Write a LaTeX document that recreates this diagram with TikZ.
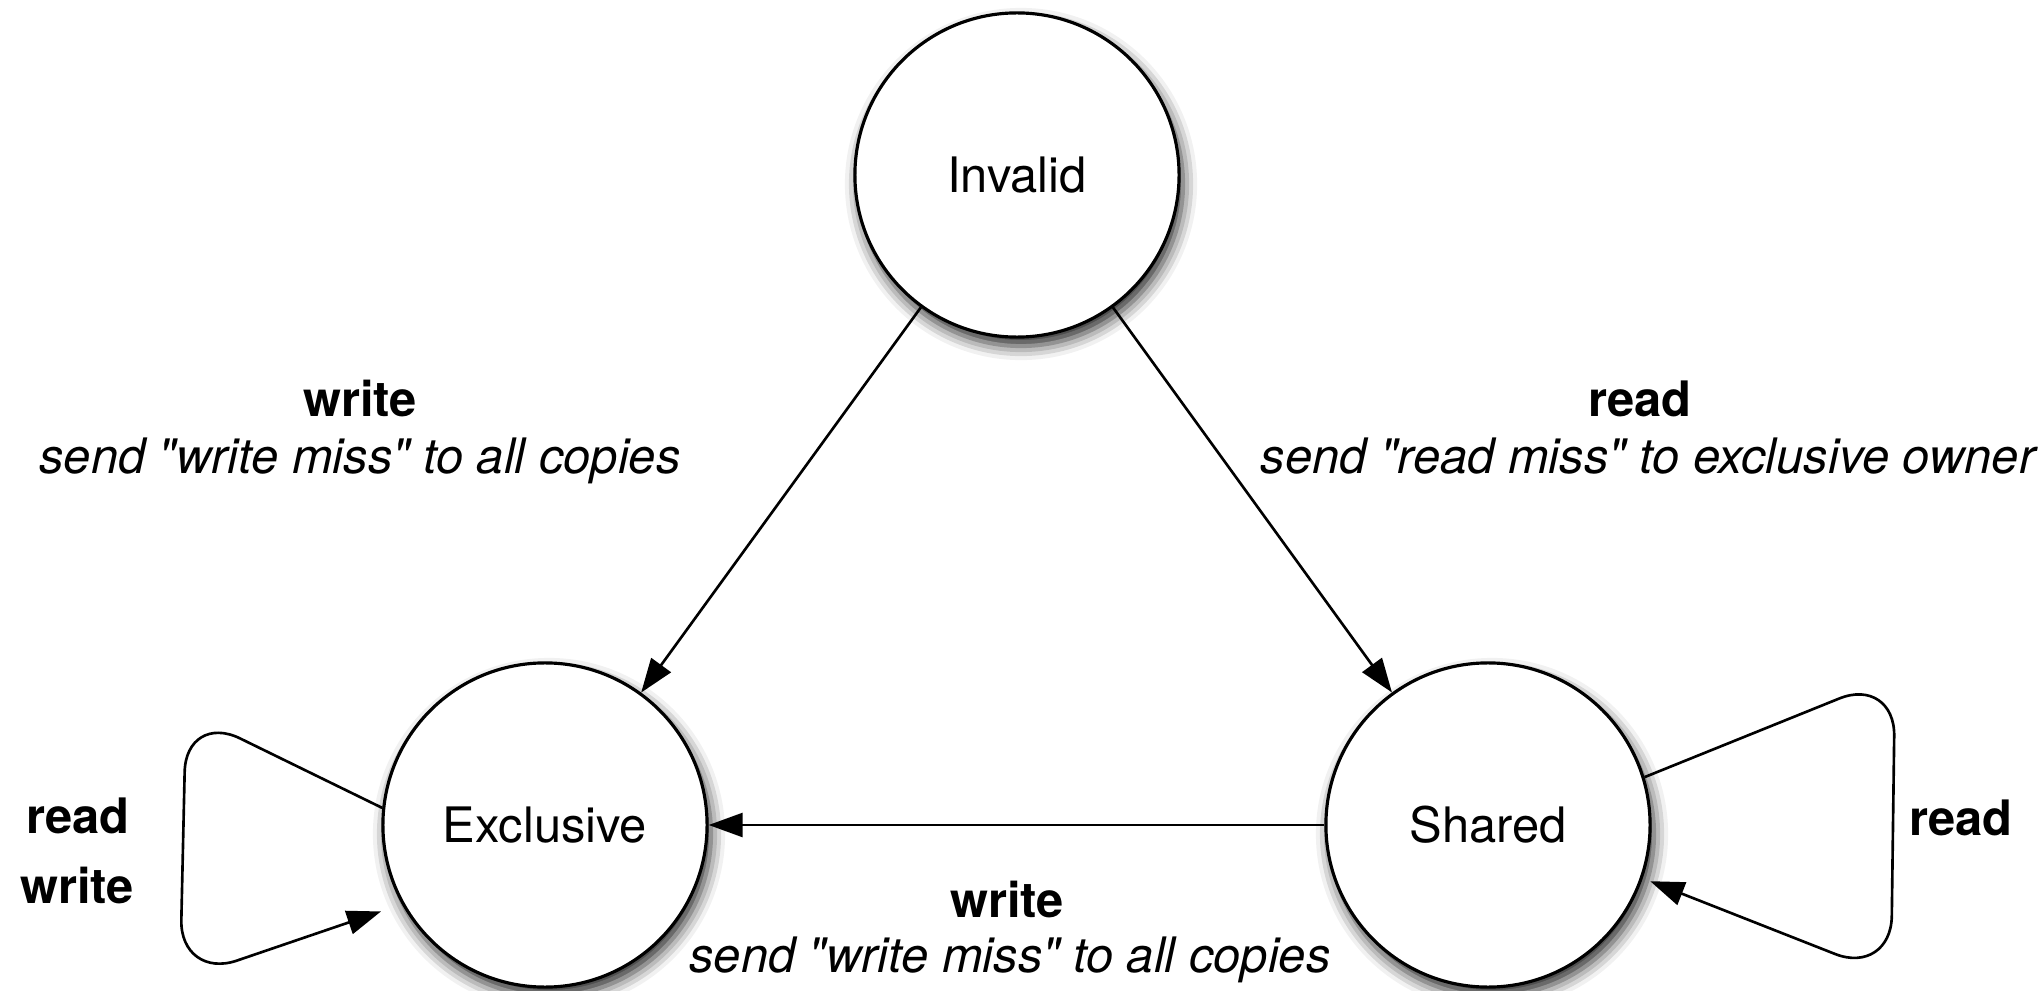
\documentclass[tikz,border=0pt]{standalone}
\usepackage{fontspec}
\setmainfont{TeX Gyre Heros}
\usetikzlibrary{arrows.meta,shadows.blur}

\tikzset{
  statenode/.style={circle, draw, line width=0.9pt, fill=white,
    minimum size=3.24cm, inner sep=0pt,
    font=\fontsize{13.9}{16}\selectfont,
    blur shadow={shadow xshift=0.04cm, shadow yshift=-0.09cm,
      shadow blur radius=0.14cm, shadow opacity=85}},
  trans/.style={-{Triangle[length=3.4mm,width=2.4mm]}, line width=0.75pt},
  evt/.style={anchor=base, inner sep=0pt, font=\fontsize{13.9}{16}\selectfont\bfseries},
  act/.style={anchor=base, inner sep=0pt, font=\fontsize{13.9}{16}\selectfont\itshape},
}

\begin{document}
\begin{tikzpicture}[x=0.01cm, y=-0.01cm]
  \useasboundingbox (0,0) rectangle (2038,991);
  \clip (0,0) rectangle (2038,991);

  % states
  \node[statenode] (inv) at (1017,175) {Invalid};
  \node[statenode] (exc) at (545,825) {Exclusive};
  \node[statenode] (sh) at (1488,825) {Shared};

  % transitions
  \draw[trans] (inv) -- (exc);
  \draw[trans] (inv) -- (sh);
  \draw[trans] (sh) -- (exc);
  \draw[trans, rounded corners=0.6cm, shorten >=0.22cm]
    (exc.174) -- (186,712) -- (180,980) -- (exc.209);
  \draw[trans, rounded corners=0.6cm, shorten >=0.08cm]
    (sh.17) -- (1895,676) -- (1891,976) -- (sh.-19);

  % labels
  \node[evt] (lw) at (360,417) {write};
  \node[act] (lwa) at (360,473) {send \textquotedbl write miss\textquotedbl\ to all copies};
  \node[evt] (rr) at (1640,417) {read};
  \node[act] (rra) at (1648,473) {send \textquotedbl read miss\textquotedbl\ to exclusive owner};
  \node[evt] (bw) at (1007,917) {write};
  \node[act] (bwa) at (1010,972) {send \textquotedbl write miss\textquotedbl\ to all copies};
  \node[evt] (er) at (78,833) {read};
  \node[evt] (ew) at (77,903) {write};
  \node[evt] (sr) at (1961,835) {read};
\end{tikzpicture}
\end{document}
